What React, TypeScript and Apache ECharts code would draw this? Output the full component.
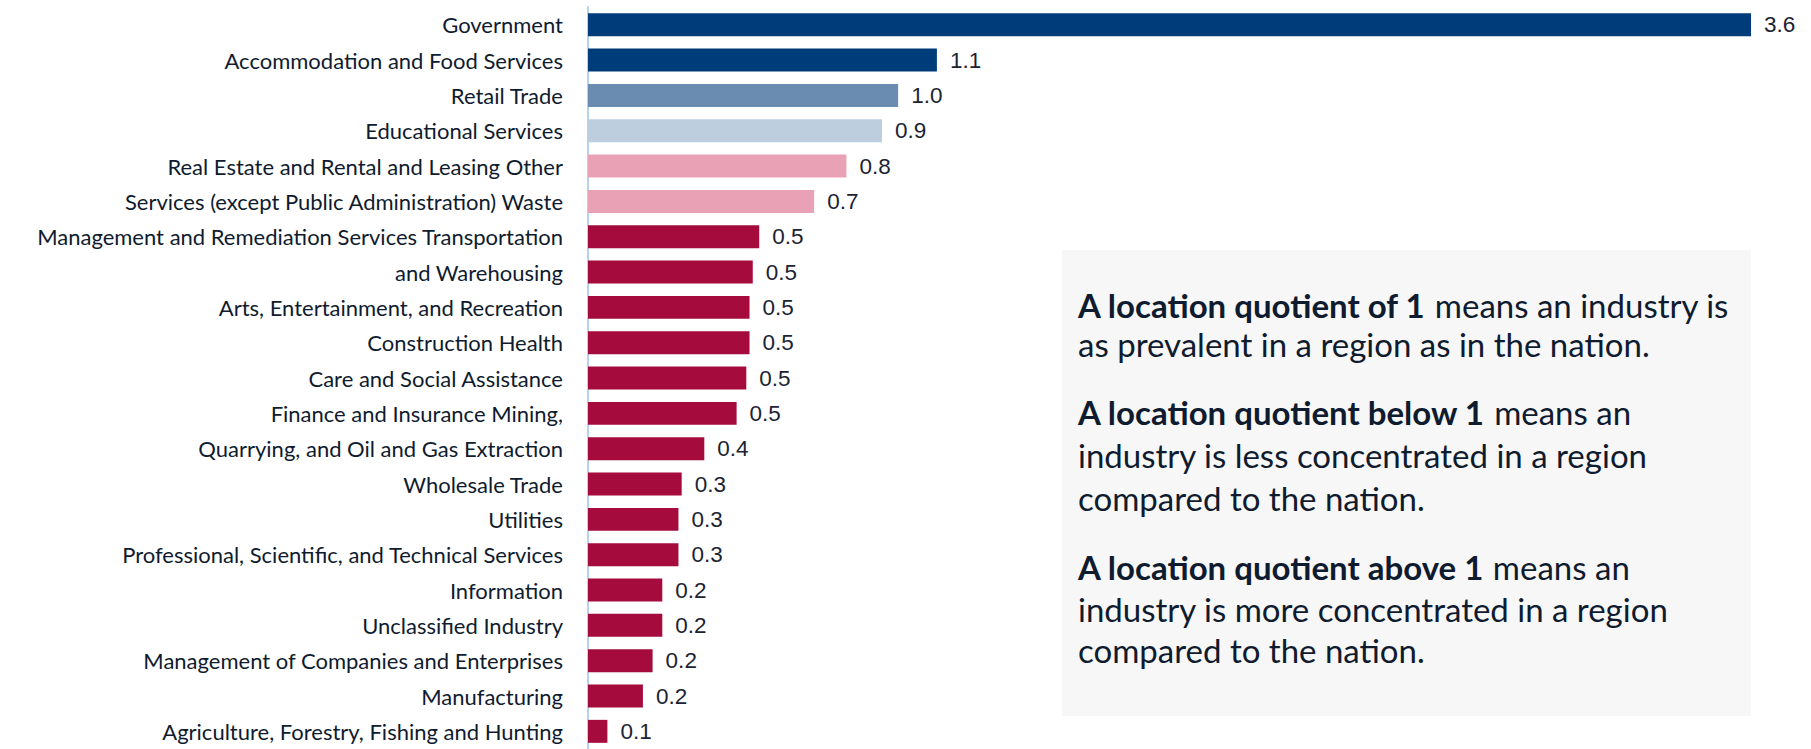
import React, { useEffect, useRef } from "react";
import * as echarts from "echarts";

const categories = [
  "Government",
  "Accommodation and Food Services",
  "Retail Trade",
  "Educational Services",
  "Real Estate and Rental and Leasing Other",
  "Services (except Public Administration) Waste",
  "Management and Remediation Services Transportation",
  "and Warehousing",
  "Arts, Entertainment, and Recreation",
  "Construction Health",
  "Care and Social Assistance",
  "Finance and Insurance Mining,",
  "Quarrying, and Oil and Gas Extraction",
  "Wholesale Trade",
  "Utilities",
  "Professional, Scientific, and Technical Services",
  "Information",
  "Unclassified Industry",
  "Management of Companies and Enterprises",
  "Manufacturing",
  "Agriculture, Forestry, Fishing and Hunting",
];

const values = [
  3.6, 1.08, 0.96, 0.91, 0.8, 0.7, 0.53, 0.51, 0.5, 0.5, 0.49, 0.46, 0.36,
  0.29, 0.28, 0.28, 0.23, 0.23, 0.2, 0.17, 0.06,
];

const barColors = [
  "#003b7a", "#003b7a", "#6a8cb0", "#bdcedf", "#e8a1b5", "#e8a1b5",
  "#a50b3d", "#a50b3d", "#a50b3d", "#a50b3d", "#a50b3d", "#a50b3d",
  "#a50b3d", "#a50b3d", "#a50b3d", "#a50b3d", "#a50b3d", "#a50b3d",
  "#a50b3d", "#a50b3d", "#a50b3d",
];

const noteLines = [
  "{b|A location quotient of 1} means an industry is",
  "as prevalent in a region as in the nation.",
  "{b|A location quotient below 1} means an",
  "industry is less concentrated in a region",
  "compared to the nation.",
  "{b|A location quotient above 1} means an",
  "industry is more concentrated in a region",
  "compared to the nation.",
];
const noteLineY = [305, 344, 412, 455, 498, 567, 609, 650];

export default function App() {
  const ref = useRef<HTMLDivElement>(null);

  useEffect(() => {
    document.body.style.margin = "0";
    const chart = echarts.init(ref.current!, null, { renderer: "svg" });
    const textColor = "#0f1b2e";
    chart.setOption({
      animation: false,
      backgroundColor: "#ffffff",
      grid: { left: 588, top: 7.1, width: 1163, height: 750.75, containLabel: false },
      xAxis: { type: "value", min: 0, max: 3.6, show: false },
      yAxis: {
        type: "category",
        data: categories,
        inverse: true,
        axisLine: { show: true, lineStyle: { color: "#b4d3f0", width: 2 } },
        axisTick: { show: false },
        splitLine: { show: false },
        axisLabel: {
          fontFamily: "Lato",
          fontSize: 22,
          color: textColor,
          margin: 25,
        },
      },
      series: [
        {
          type: "bar",
          barCategoryGap: "35%",
          data: values.map((v, i) => ({ value: v, itemStyle: { color: barColors[i] } })),
          label: {
            show: true,
            position: "right",
            distance: 13,
            formatter: (p: any) => Number(p.value).toFixed(1),
            fontFamily: "Liberation Sans",
            fontSize: 22.5,
            color: "#1b2333",
          },
        },
      ],
      graphic: [
        {
          type: "rect",
          shape: { x: 1062, y: 250, width: 689, height: 466 },
          style: { fill: "#f7f7f7" },
          z: 10,
        },
        ...noteLines.map((t, i) => ({
          type: "text",
          x: 1078,
          y: noteLineY[i],
          z: 11,
          style: {
            text: t,
            fill: textColor,
            font: "33px Lato",
            verticalAlign: "middle",
            rich: {
              b: { fontWeight: "bold", fontSize: 33, fontFamily: "Lato", fill: textColor },
            },
          },
        })),
      ],
    });
    return () => chart.dispose();
  }, []);

  return <div ref={ref} style={{ width: 1811, height: 749 }} />;
}
